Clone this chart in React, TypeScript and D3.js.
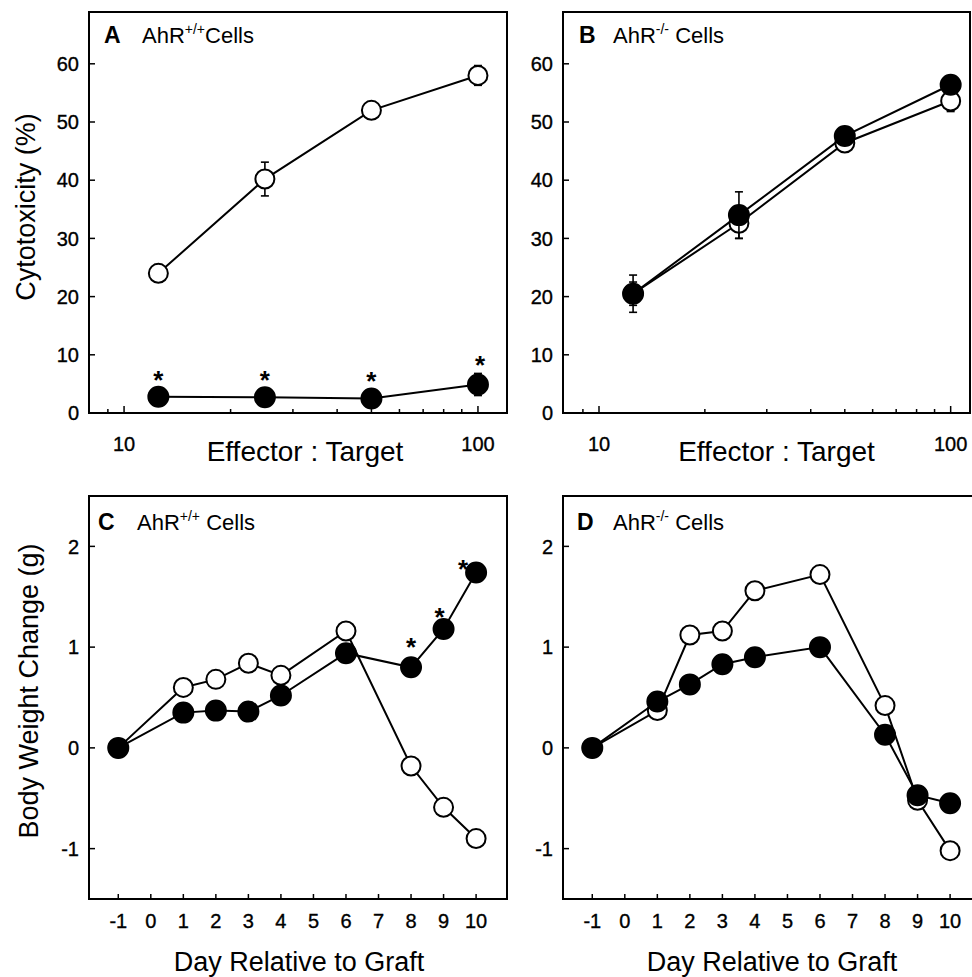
import React from 'react';
import * as d3 from 'd3';

// E:T ratios for the cytotoxicity panels
const ratios = [12.5, 25, 50, 100];
const aOpen = [24, 40.2, 52, 58];
const aOpenErr = [1.5, 2.9, 0.8, 1.7];
const aFilled = [2.8, 2.7, 2.5, 4.9];
const aFilledErr = [0.4, 0.3, 0.4, 1.9];
const bOpen = [20.5, 32.6, 46.4, 53.6];
const bOpenErr = [2.0, 2.6, 0.6, 1.8];
const bFilled = [20.5, 34.0, 47.6, 56.4];
const bFilledErr = [3.2, 4.0, 1.4, 0.5];

// days relative to graft for the body weight panels
const days = [-1, 1, 2, 3, 4, 6, 8, 9, 10];
const cOpen = [0, 0.6, 0.68, 0.84, 0.72, 1.16, -0.18, -0.59, -0.9];
const cFilled = [0, 0.35, 0.37, 0.36, 0.52, 0.94, 0.8, 1.18, 1.74];
const dOpen = [0, 0.37, 1.12, 1.16, 1.56, 1.72, 0.42, -0.52, -1.02];
const dFilled = [0, 0.46, 0.63, 0.83, 0.9, 1.0, 0.13, -0.47, -0.55];

// significance marks (on the filled series)
const aStars = [12.5, 25, 50, 100];
const cStars = [8, 9, 10];

const logMajor = [10, 100];
const logMinor = [9, 20, 30, 40, 50, 60, 70, 80, 90];
const cytoTicks = [0, 10, 20, 30, 40, 50, 60];
const dayTicks = [-1, 0, 1, 2, 3, 4, 5, 6, 7, 8, 9, 10];
const weightTicks = [-1, 0, 1, 2];

const FONT = '"Liberation Sans", Arial, Helvetica, sans-serif';

function Series({ xs, ys, errs, x, y, filled }: any) {
  const line = d3.line<number>().x((_, i) => x(xs[i])).y((d) => y(d));
  return (
    <g>
      <path d={line(ys) || ''} fill="none" stroke="#000" strokeWidth={2} />
      {errs &&
        ys.map((v: number, i: number) => {
          const cx = x(xs[i]);
          const t = y(v + errs[i]);
          const b = y(v - errs[i]);
          return (
            <g key={'e' + i} stroke="#000" strokeWidth={1.6}>
              <line x1={cx} x2={cx} y1={t} y2={b} />
              <line x1={cx - 4} x2={cx + 4} y1={t} y2={t} />
              <line x1={cx - 4} x2={cx + 4} y1={b} y2={b} />
            </g>
          );
        })}
      {ys.map((v: number, i: number) => (
        <circle
          key={i}
          cx={x(xs[i])}
          cy={y(v)}
          r={filled ? 10 : 9.5}
          fill={filled ? '#000' : '#fff'}
          stroke="#000"
          strokeWidth={2}
        />
      ))}
    </g>
  );
}

function Panel(p: any) {
  const { x0, y0, w, h, x, y, letter, sup, gap, letterDx, labelDx, titleDy } = p;
  return (
    <g fontFamily={FONT}>
      {/* y ticks and labels */}
      {p.yTicks.map((t: number) => (
        <g key={'y' + t}>
          <line x1={x0} x2={x0 + 6} y1={y(t)} y2={y(t)} stroke="#000" strokeWidth={1.5} />
          <text x={x0 - 10} y={y(t)} dy="0.36em" textAnchor="end" fontSize={20} stroke="#000" strokeWidth={0.35}>
            {t}
          </text>
        </g>
      ))}
      {/* x ticks */}
      {p.xMajor.map((t: number) => (
        <g key={'x' + t}>
          <line x1={x(t)} x2={x(t)} y1={y0 + h} y2={y0 + h - p.majorLen} stroke="#000" strokeWidth={1.5} />
          <text x={x(t)} y={p.xLabelY} textAnchor="middle" fontSize={20} stroke="#000" strokeWidth={0.35}>
            {t}
          </text>
        </g>
      ))}
      {(p.xMinor || []).map((t: number) => (
        <line key={'m' + t} x1={x(t)} x2={x(t)} y1={y0 + h} y2={y0 + h - 4} stroke="#000" strokeWidth={1.5} />
      ))}
      {p.series.map((s: any, i: number) => (
        <Series key={i} xs={s.xs} ys={s.ys} errs={s.errs} x={x} y={y} filled={s.filled} />
      ))}
      {p.stars.map((sx: number, i: number) => {
        const idx = p.starSeries.xs.indexOf(sx);
        const off = p.starOffsets[i];
        return (
          <text
            key={'s' + i}
            x={x(sx) + off[0]}
            y={y(p.starSeries.ys[idx]) + off[1] + 14}
            textAnchor="middle"
            fontSize={26}
            fontWeight="bold"
          >
            *
          </text>
        );
      })}
      <rect x={x0} y={y0} width={w} height={h} fill="none" stroke="#000" strokeWidth={2} />
      <text x={x0 + letterDx} y={y0 + titleDy} fontSize={23} fontWeight="bold">
        {letter}
      </text>
      <text x={x0 + labelDx} y={y0 + titleDy} fontSize={22} style={{ whiteSpace: 'pre' }}>
        AhR
        <tspan dy={-9} fontSize={14}>
          {sup}
        </tspan>
        <tspan dy={9}>{gap ? ' Cells' : 'Cells'}</tspan>
      </text>
      <text x={x0 + w / 2 + p.titleDx} y={p.xTitleY} textAnchor="middle" fontSize={p.xTitleSize}>
        {p.xTitle}
      </text>
      {p.yTitle && (
        <text
          transform={`translate(${p.yTitleX},${p.yTitleY}) rotate(-90)`}
          textAnchor="middle"
          fontSize={27}
        >
          {p.yTitle}
        </text>
      )}
    </g>
  );
}

export default function App() {
  const topY0 = 12;
  const topH = 401;
  const botY0 = 496;
  const botH = 403;

  const yCyto = d3.scaleLinear().domain([0, 68.9]).range([topY0 + topH, topY0]);
  const yWeight = d3.scaleLinear().domain([-1.5, 2.5]).range([botY0 + botH, botY0]);

  const xA = d3.scaleLog().domain([7.96, 120.8]).range([89, 507]);
  const xB = d3.scaleLog().domain([7.9, 113.5]).range([563, 970]);
  const xC = d3.scaleLinear().domain([-1.9, 10.95]).range([89, 507]);
  const xD = d3.scaleLinear().domain([-1.9, 10.95]).range([563, 981]);

  return (
    <svg
      width={972}
      height={977}
      style={{ position: 'absolute', left: 0, top: 0, background: '#fff' }}
    >
      <Panel
        x0={89} y0={topY0} w={418} h={topH} x={xA} y={yCyto}
        letter="A" sup="+/+" gap={false} letterDx={15} labelDx={53} titleDy={31}
        yTicks={cytoTicks} xMajor={logMajor} xMinor={logMinor} majorLen={7} xLabelY={451}
        series={[
          { xs: ratios, ys: aOpen, errs: aOpenErr, filled: false },
          { xs: ratios, ys: aFilled, errs: aFilledErr, filled: true },
        ]}
        stars={aStars} starSeries={{ xs: ratios, ys: aFilled }}
        starOffsets={[[0, -22], [0, -22], [0, -22], [2, -24]]}
        xTitle="Effector : Target" xTitleY={461} titleDx={7} xTitleSize={28}
        yTitle="Cytotoxicity (%)" yTitleX={35} yTitleY={207}
      />
      <Panel
        x0={563} y0={topY0} w={407} h={topH} x={xB} y={yCyto}
        letter="B" sup="-/-" gap={true} letterDx={16} labelDx={50} titleDy={31}
        yTicks={cytoTicks} xMajor={logMajor} xMinor={logMinor} majorLen={7} xLabelY={451}
        series={[
          { xs: ratios, ys: bOpen, errs: bOpenErr, filled: false },
          { xs: ratios, ys: bFilled, errs: bFilledErr, filled: true },
        ]}
        stars={[]} starSeries={{ xs: ratios, ys: bFilled }} starOffsets={[]}
        xTitle="Effector : Target" xTitleY={461} titleDx={10} xTitleSize={28}
      />
      <Panel
        x0={89} y0={botY0} w={418} h={botH} x={xC} y={yWeight}
        letter="C" sup="+/+" gap={true} letterDx={9} labelDx={48} titleDy={34}
        yTicks={weightTicks} xMajor={dayTicks} majorLen={5} xLabelY={928}
        series={[
          { xs: days, ys: cOpen, filled: false },
          { xs: days, ys: cFilled, filled: true },
        ]}
        stars={cStars} starSeries={{ xs: days, ys: cFilled }}
        starOffsets={[[0, -25], [-4, -17], [-13, -9]]}
        xTitle="Day Relative to Graft" xTitleY={971} titleDx={1} xTitleSize={27}
        yTitle="Body Weight Change (g)" yTitleX={38} yTitleY={691}
      />
      <Panel
        x0={563} y0={botY0} w={418} h={botH} x={xD} y={yWeight}
        letter="D" sup="-/-" gap={true} letterDx={14} labelDx={50} titleDy={34}
        yTicks={weightTicks} xMajor={dayTicks} majorLen={5} xLabelY={928}
        series={[
          { xs: days, ys: dOpen, filled: false },
          { xs: days, ys: dFilled, filled: true },
        ]}
        stars={[]} starSeries={{ xs: days, ys: dFilled }} starOffsets={[]}
        xTitle="Day Relative to Graft" xTitleY={971} titleDx={0} xTitleSize={27}
      />
    </svg>
  );
}
